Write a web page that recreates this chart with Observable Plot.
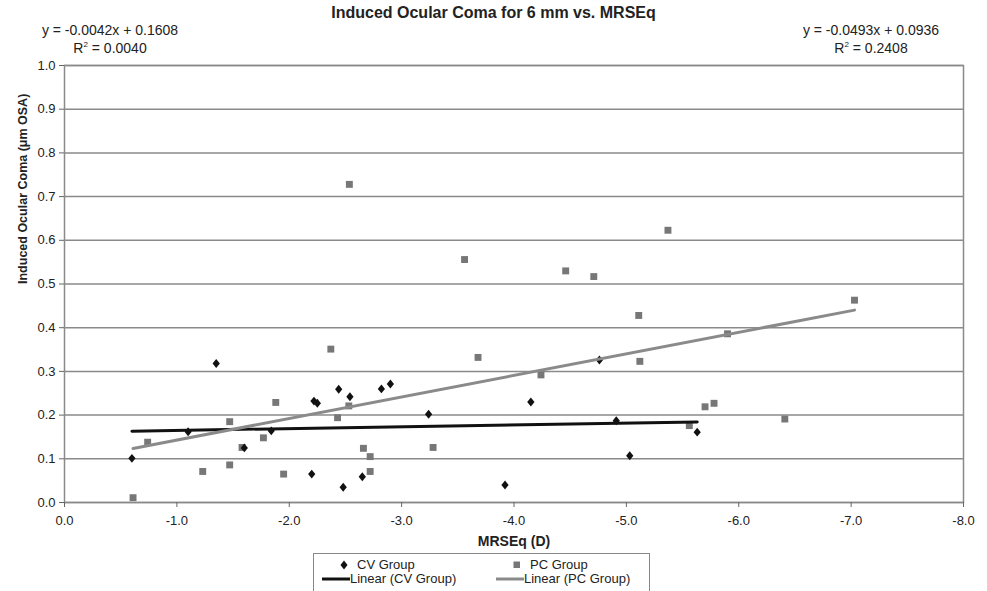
<!DOCTYPE html>
<html>
<head>
<meta charset="utf-8">
<script src="https://cdn.jsdelivr.net/npm/d3@7"></script>
<script src="https://cdn.jsdelivr.net/npm/@observablehq/plot@0.6"></script>
<style>
  html, body { margin: 0; padding: 0; background: #fff; }
  #wrap { position: relative; width: 987px; height: 591px; overflow: hidden; font-family: "Liberation Sans", Arial, sans-serif; color: #222; }
  #wrap svg { position: absolute; left: 0; top: 0; }
  .abs { position: absolute; white-space: nowrap; }
  #title { left: 0; width: 987px; text-align: center; top: 4px; font-size: 16px; font-weight: bold; }
  .eq { font-size: 14px; line-height: 18px; text-align: center; width: 200px; }
  .eq sup { font-size: 8px; vertical-align: 6px; line-height: 0; }
  #legend { left: 313px; top: 553px; width: 337px; height: 50px; border: 1.5px solid #888; box-sizing: border-box; background: #fff; font-size: 13px; }
  .li { position: absolute; white-space: nowrap; }
  .li svg { position: absolute; }
</style>
</head>
<body>
<div id="wrap">
  <div id="title" class="abs">Induced Ocular Coma for 6 mm vs. MRSEq</div>
  <div id="eqL" class="abs eq" style="left:10px; top:21px;"></div>
  <div id="eqR" class="abs eq" style="left:771px; top:21px;"></div>
  <div id="legend" class="abs"></div>
</div>
<script>
// ---- data ----
const cvX = [-0.60, -1.10, -1.35, -1.60, -1.84, -2.20, -2.22, -2.25, -2.44, -2.48, -2.54, -2.65, -2.82, -2.90, -3.24, -3.92, -4.15, -4.76, -4.91, -5.03, -5.63];
const cvY = [0.101, 0.162, 0.318, 0.125, 0.164, 0.065, 0.232, 0.227, 0.259, 0.035, 0.242, 0.059, 0.260, 0.271, 0.202, 0.040, 0.230, 0.326, 0.187, 0.107, 0.161];

const pcX = [-0.61, -0.74, -1.23, -1.47, -1.47, -1.58, -1.77, -1.88, -1.95, -2.37, -2.43, -2.53, -2.535, -2.66, -2.72, -2.72, -3.28, -3.56, -3.68, -4.24, -4.46, -4.71, -5.11, -5.12, -5.37, -5.56, -5.70, -5.78, -5.90, -6.41, -7.03];
const pcY = [0.011, 0.138, 0.071, 0.185, 0.086, 0.126, 0.148, 0.229, 0.065, 0.351, 0.194, 0.221, 0.728, 0.124, 0.105, 0.071, 0.126, 0.556, 0.332, 0.292, 0.530, 0.517, 0.428, 0.323, 0.623, 0.176, 0.219, 0.227, 0.386, 0.191, 0.463];

const fitSeries = ["CV Group", "PC Group"];
const fitSlope = [-0.0042, -0.0493];
const fitIntercept = [0.1608, 0.0936];
const fitR2 = [0.0040, 0.2408];

const xTicks = [0, -1, -2, -3, -4, -5, -6, -7, -8];
const yTicks = [0, 0.1, 0.2, 0.3, 0.4, 0.5, 0.6, 0.7, 0.8, 0.9, 1.0];

const titleText = "Induced Ocular Coma for 6 mm vs. MRSEq";
const xLabel = "MRSEq (D)";
const yLabel = "Induced Ocular Coma (\u03bcm OSA)";

// ---- build tables ----
const cv = cvX.map((x, i) => ({x, y: cvY[i]}));
const pc = pcX.map((x, i) => ({x, y: pcY[i]}));
function fitLine(pts, k) {
  const [x0, x1] = d3.extent(pts, d => d.x);
  return [x0, x1].map(x => ({x, y: fitSlope[k] * x + fitIntercept[k]}));
}
const cvLine = fitLine(cv, 0);
const pcLine = fitLine(pc, 1);

const fmt1 = d => (+d).toFixed(1);
const CV_COLOR = "#111";
const PC_COLOR = "#777";
const PC_LINE = "#8a8a8a";

// custom slightly tall diamond symbol
const tallDiamond = {
  draw(context, size) {
    const r = Math.sqrt(size / Math.PI);
    const h = r * 1.35, w = r * 1.1;
    context.moveTo(0, -h);
    context.lineTo(w, 0);
    context.lineTo(0, h);
    context.lineTo(-w, 0);
    context.closePath();
  }
};

const chart = Plot.plot({
  width: 987,
  height: 591,
  marginLeft: 64,
  marginRight: 24,
  marginTop: 65,
  marginBottom: 89,
  style: {fontFamily: "'Liberation Sans', Arial, sans-serif", fontSize: "13px", color: "#222", background: "transparent", overflow: "visible"},
  x: {domain: [0, -8]},
  y: {domain: [0, 1]},
  marks: [
    Plot.gridY(yTicks, {stroke: "#8a8a8a", strokeOpacity: 1, strokeWidth: 1.5}),
    Plot.frame({stroke: "#8a8a8a", strokeWidth: 1.5}),
    Plot.axisX(xTicks, {tickSize: 5, tickPadding: 8, tickFormat: fmt1, label: null, stroke: "#666", fill: "#222"}),
    Plot.axisY(yTicks, {tickSize: 5, tickPadding: 4, tickFormat: fmt1, label: null, stroke: "#666", fill: "#222"}),
    Plot.dot(pc, {x: "x", y: "y", symbol: "square", fill: PC_COLOR, r: 3.9}),
    Plot.dot(cv, {x: "x", y: "y", symbol: tallDiamond, fill: CV_COLOR, r: 3.3}),
    Plot.line(cvLine, {x: "x", y: "y", stroke: CV_COLOR, strokeWidth: 3}),
    Plot.line(pcLine, {x: "x", y: "y", stroke: PC_LINE, strokeWidth: 3}),
    Plot.text([xLabel], {frameAnchor: "bottom", dy: 43, fontWeight: "bold", fontSize: 14, fill: "#222"}),
    Plot.text([yLabel], {frameAnchor: "left", dx: -42, rotate: -90, fontWeight: "bold", fontSize: 12.5, fill: "#222"})
  ]
});
document.getElementById("wrap").prepend(chart);

// equations
function eqHtml(k) {
  const s = fitSlope[k], b = fitIntercept[k];
  return `y = ${s.toFixed(4)}x ${b >= 0 ? "+" : "-"} ${Math.abs(b).toFixed(4)}<br>R<sup>2</sup> = ${fitR2[k].toFixed(4)}`;
}
document.getElementById("eqL").innerHTML = eqHtml(0);
document.getElementById("eqR").innerHTML = eqHtml(1);

// legend
const lg = document.getElementById("legend");
const items = [
  {label: fitSeries[0], kind: "diamond", color: CV_COLOR, left: 25, top: 3},
  {label: fitSeries[1], kind: "square", color: PC_COLOR, left: 198, top: 3},
  {label: `Linear (${fitSeries[0]})`, kind: "line", color: CV_COLOR, left: 8, top: 17},
  {label: `Linear (${fitSeries[1]})`, kind: "line", color: PC_LINE, left: 182, top: 17}
];
for (const it of items) {
  const d = document.createElement("div");
  d.className = "li";
  d.style.left = it.left + "px";
  d.style.top = it.top + "px";
  let sym = "";
  if (it.kind === "diamond") sym = `<svg width="10" height="12" style="left:0;top:2px"><path d="M5,1.5L8.5,6L5,10.5L1.5,6Z" fill="${it.color}"/></svg>`;
  else if (it.kind === "square") sym = `<svg width="10" height="12" style="left:0;top:2px"><rect x="1.5" y="2.5" width="6.5" height="6.5" fill="${it.color}"/></svg>`;
  else sym = `<svg width="28" height="12" style="left:0;top:2px"><line x1="0" x2="28" y1="6" y2="6" stroke="${it.color}" stroke-width="3"/></svg>`;
  const off = it.kind === "line" ? 28 : 18;
  d.innerHTML = sym + `<span style="position:absolute;left:${off}px;top:0;line-height:16px">${it.label}</span>`;
  lg.appendChild(d);
}
</script>
</body>
</html>
